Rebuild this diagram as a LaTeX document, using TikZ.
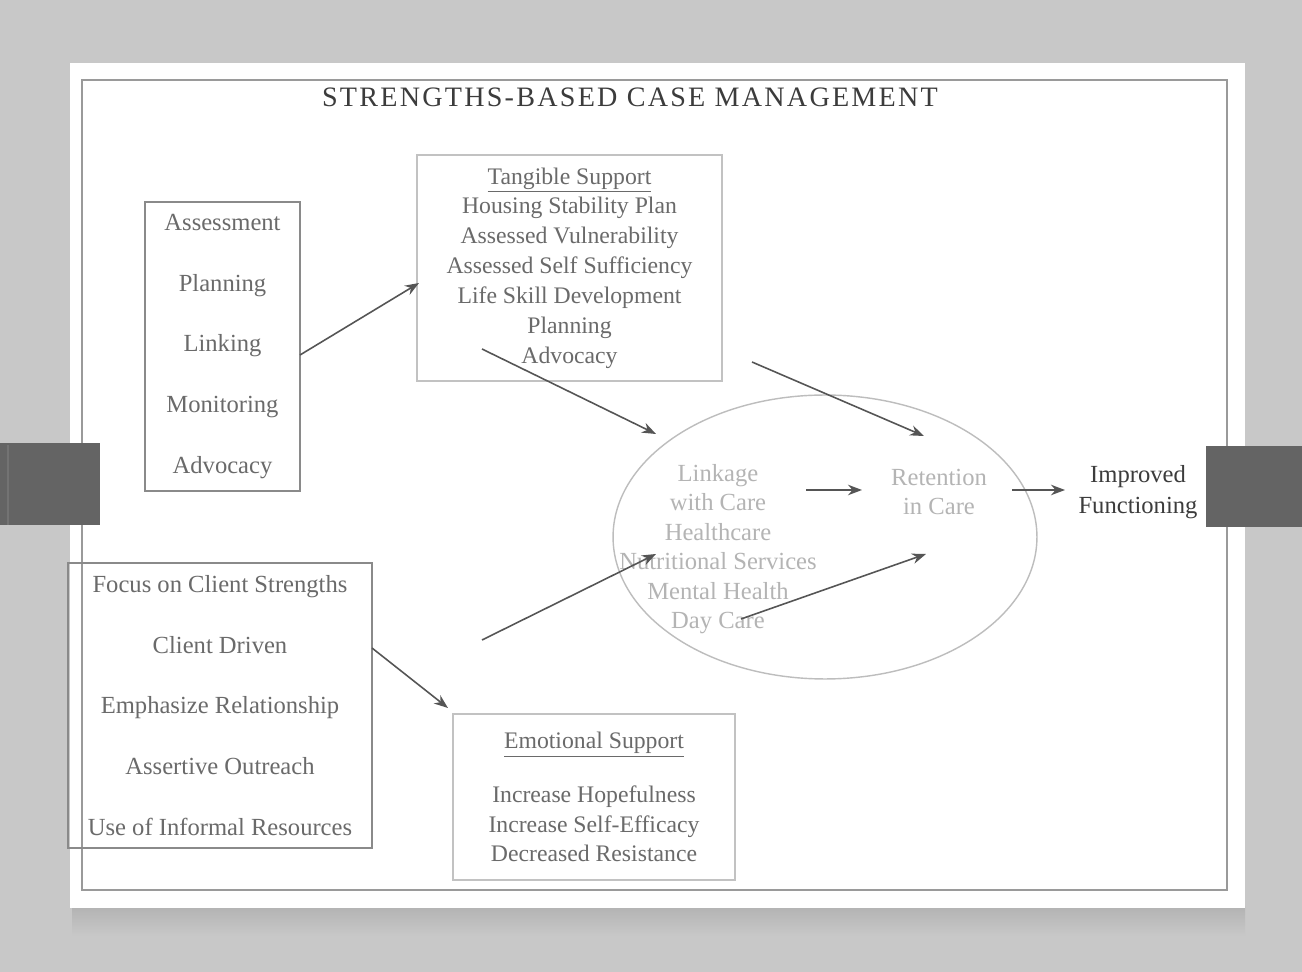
\documentclass[tikz,border=0pt]{standalone}
\usepackage{fontspec}
\setmainfont{Liberation Serif}
\usetikzlibrary{arrows.meta,shapes.geometric}

\definecolor{backdrop}{HTML}{C8C8C8}
\definecolor{barfill}{HTML}{646464}
\definecolor{framecol}{HTML}{9A9A9A}
\definecolor{boxcol}{HTML}{8A8A8A}
\definecolor{softbox}{HTML}{C2C2C2}
\definecolor{ellcol}{HTML}{BDBDBD}
\definecolor{txtcol}{HTML}{6A6A6A}
\definecolor{softtxt}{HTML}{B4B4B4}
\definecolor{darktxt}{HTML}{3C3C3C}
\definecolor{arrowcol}{HTML}{555555}

\tikzset{
  solidbox/.style={draw=boxcol, line width=0.9pt, inner sep=0pt, align=center,
    text=txtcol, font=\fontsize{14pt}{34.6pt}\selectfont},
  softframe/.style={draw=softbox, line width=0.7pt, inner sep=0pt, align=center,
    text=txtcol},
  circtext/.style={align=center, text=softtxt, inner sep=0pt,
    font=\fontsize{14pt}{16.8pt}\selectfont},
  link/.style={draw=arrowcol, line width=0.9pt,
    -{Stealth[length=0.28cm,width=0.21cm]}},
}

\begin{document}
\begin{tikzpicture}[x=0.02cm,y=-0.02cm]
\useasboundingbox (0,0) rectangle (1302,972);

% backdrop, page shadow and white page
\fill[backdrop] (0,0) rectangle (1302,972);
\shade[top color=black!30, bottom color=backdrop] (72,906) rectangle (1245,936);
\fill[white] (70,63) rectangle (1245,908);

% outer frame
\draw[framecol, line width=1pt] (82,80) rectangle (1227,890);

% side bars
\fill[barfill] (0,443) rectangle (100,525);
\draw[black!55, line width=0.8pt] (8,445) -- (8,525);
\fill[barfill] (1206,446) rectangle (1302,527);

% title
\node[text=darktxt, font=\fontsize{16pt}{19pt}\selectfont\addfontfeature{LetterSpace=8}]
  (title) at (630,97) {STRENGTHS-BASED CASE MANAGEMENT};

% case management functions
\node[solidbox, minimum width=3.1cm, minimum height=5.78cm] (steps) at (222.5,346.5)
  {Assessment\\Planning\\Linking\\Monitoring\\Advocacy};

% strengths principles
\node[solidbox, minimum width=6.08cm, minimum height=5.7cm] (principles) at (220,705.5)
  {Focus on Client Strengths\\Client Driven\\Emphasize Relationship\\Assertive Outreach\\Use of Informal Resources};

% tangible support
\node[softframe, minimum width=6.1cm, minimum height=4.52cm,
  font=\fontsize{13.5pt}{17pt}\selectfont] (tangible) at (569.5,268)
  {\underline{Tangible Support}\\Housing Stability Plan\\Assessed Vulnerability\\Assessed Self Sufficiency\\Life Skill Development\\Planning\\Advocacy};

% emotional support
\node[softframe, minimum width=5.64cm, minimum height=3.32cm,
  font=\fontsize{13.5pt}{16.7pt}\selectfont] (emotional) at (594,797)
  {\underline{Emotional Support}\\[0.5cm]Increase Hopefulness\\Increase Self-Efficacy\\Decreased Resistance};

% care ellipse
\node[draw=ellcol, line width=0.8pt, ellipse, minimum width=8.48cm,
  minimum height=5.68cm, inner sep=0pt] (care) at (825,537) {};
\node[circtext] (linkage) at (718,549)
  {Linkage\\with Care\\Healthcare\\Nutritional Services\\Mental Health\\Day Care};
\node[circtext] (retention) at (939,492) {Retention\\in Care};

% outcome
\node[align=center, text=darktxt, inner sep=0pt,
  font=\fontsize{14pt}{17.5pt}\selectfont] (outcome) at (1138,492)
  {Improved\\Functioning};

% connector end points
\coordinate (a1s) at (300,355);  \coordinate (a1e) at (419,283);
\coordinate (a2s) at (482,349);  \coordinate (a2e) at (656,434);
\coordinate (a3s) at (752,362);  \coordinate (a3e) at (924,436);
\coordinate (a4s) at (806,490);  \coordinate (a4e) at (862,490);
\coordinate (a5s) at (1012,490); \coordinate (a5e) at (1065,490);
\coordinate (a6s) at (482,640);  \coordinate (a6e) at (656,554);
\coordinate (a7s) at (741,619);  \coordinate (a7e) at (926,554);
\coordinate (a8s) at (372,648);  \coordinate (a8e) at (448,708);

% connectors
\draw[link] (a1s) -- (a1e);
\draw[link] (a2s) -- (a2e);
\draw[link] (a3s) -- (a3e);
\draw[link] (a4s) -- (a4e);
\draw[link] (a5s) -- (a5e);
\draw[link] (a6s) -- (a6e);
\draw[link] (a7s) -- (a7e);
\draw[link] (a8s) -- (a8e);
\end{tikzpicture}
\end{document}
